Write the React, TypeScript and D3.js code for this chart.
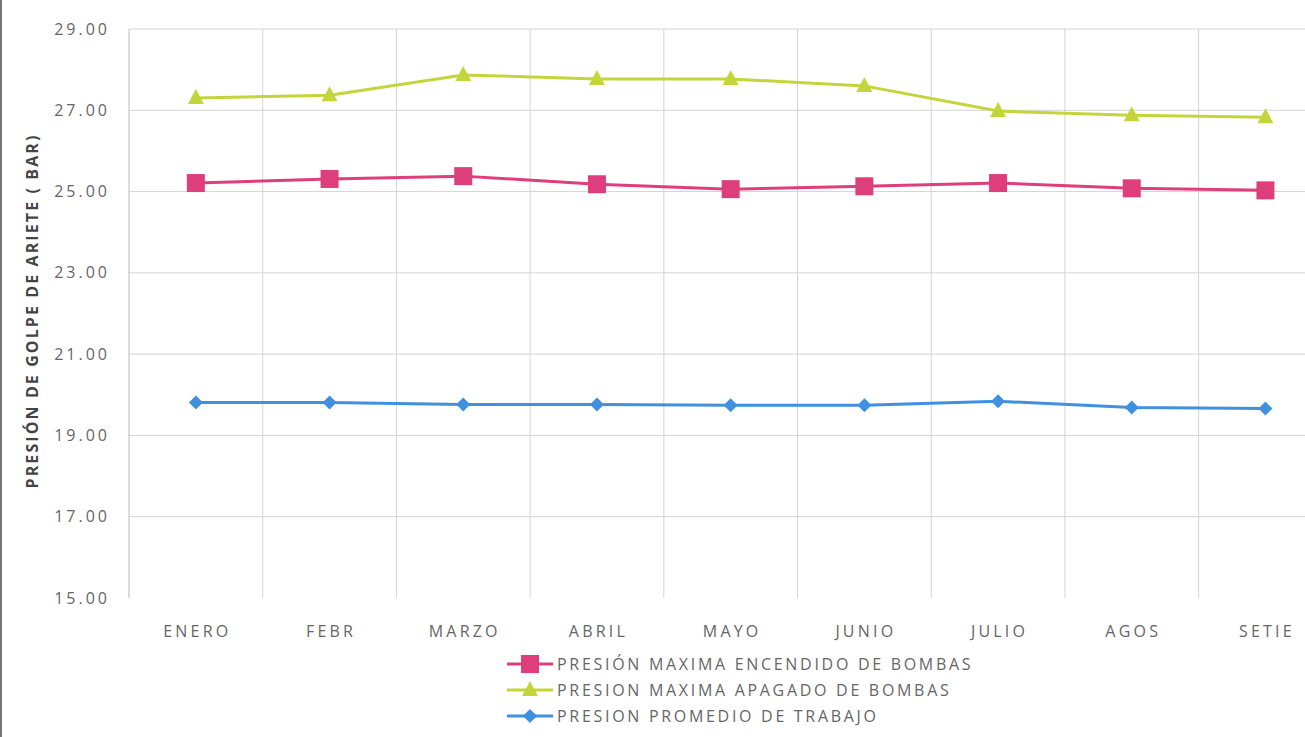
import React from "react";
import * as d3 from "d3";

const categories = ["ENERO", "FEBR", "MARZO", "ABRIL", "MAYO", "JUNIO", "JULIO", "AGOS", "SETIE"];
const encendido = [25.21, 25.31, 25.38, 25.18, 25.06, 25.13, 25.21, 25.08, 25.03];
const apagado = [27.3, 27.37, 27.87, 27.77, 27.77, 27.6, 26.98, 26.88, 26.83];
const promedio = [19.81, 19.81, 19.76, 19.76, 19.74, 19.74, 19.84, 19.69, 19.66];
const yTicks = [15, 17, 19, 21, 23, 25, 27, 29];
const seriesNames = [
  "PRESIÓN MAXIMA ENCENDIDO DE BOMBAS",
  "PRESION MAXIMA APAGADO DE BOMBAS",
  "PRESION PROMEDIO DE TRABAJO",
];

const W = 1305;
const H = 737;
const left = 129;
const bandW = 133.7;
const top = 29;
const bottom = 598;

const colors = ["#de3f7c", "#c4d53c", "#4090e0"];

export default function App() {
  const x = d3
    .scaleBand<string>()
    .domain(categories)
    .range([left, left + bandW * categories.length]);
  const y = d3.scaleLinear().domain([15, 29]).range([bottom, top]);
  const line = d3
    .line<number>()
    .x((_, i) => (x(categories[i]) as number) + x.bandwidth() / 2)
    .y((d) => y(d));

  const series = [encendido, apagado, promedio];
  const font = "'Open Sans', Lato, sans-serif";

  const marker = (s: number, cx: number, cy: number, key: string) => {
    if (s === 0)
      return <rect key={key} x={cx - 9} y={cy - 9} width={18} height={18} fill={colors[0]} />;
    if (s === 1)
      return (
        <path
          key={key}
          d={`M${cx},${cy - 9} L${cx + 8},${cy + 6} L${cx - 8},${cy + 6} Z`}
          fill={colors[1]}
        />
      );
    return (
      <path
        key={key}
        d={`M${cx},${cy - 7} L${cx + 7},${cy} L${cx},${cy + 7} L${cx - 7},${cy} Z`}
        fill={colors[2]}
      />
    );
  };

  const legendY = [664, 690, 716];

  return (
    <svg
      width={W}
      height={H}
      style={{ position: "absolute", left: 0, top: 0, background: "#fff" }}
      fontFamily={font}
    >
      <rect x={0} y={0} width={W} height={H} fill="#fff" />
      <line x1={1} x2={1} y1={0} y2={H} stroke="#777" strokeWidth={2} />
      {/* horizontal gridlines */}
      {yTicks.map((t) => (
        <g key={t}>
          {t !== 15 && (
            <line x1={left} x2={W} y1={y(t)} y2={y(t)} stroke="#d4d4d4" strokeWidth={1} />
          )}
          <text
            x={110}
            y={y(t)}
            dy="0.35em"
            textAnchor="end"
            fontSize={16}
            letterSpacing={3}
            fill="#666"
          >
            {t.toFixed(2)}
          </text>
        </g>
      ))}
      {/* vertical gridlines */}
      {categories.map((c) => (
        <line
          key={c}
          x1={(x(c) as number) + bandW}
          x2={(x(c) as number) + bandW}
          y1={top}
          y2={bottom}
          stroke="#d4d4d4"
          strokeWidth={1}
        />
      ))}
      <line x1={left} x2={left} y1={top} y2={bottom} stroke="#bbb" strokeWidth={1} />
      {/* x labels */}
      {categories.map((c) => (
        <text
          key={c}
          x={(x(c) as number) + x.bandwidth() / 2 + 1.5}
          y={631}
          dy="0.35em"
          textAnchor="middle"
          fontSize={16}
          letterSpacing={3.2}
          fill="#666"
        >
          {c}
        </text>
      ))}
      {/* y title */}
      <text
        transform={`translate(32,311) rotate(-90)`}
        textAnchor="middle"
        dy="0.35em"
        fontSize={16}
        letterSpacing={2.1}
        fontWeight="bold"
        fill="#444"
      >
        PRESIÓN DE GOLPE DE ARIETE ( BAR)
      </text>
      {/* series */}
      {series.map((vals, s) => (
        <g key={s}>
          <path d={line(vals) || ""} fill="none" stroke={colors[s]} strokeWidth={3} />
          {vals.map((v, i) =>
            marker(
              s,
              (x(categories[i]) as number) + x.bandwidth() / 2,
              y(v),
              `${s}-${i}`
            )
          )}
        </g>
      ))}
      {/* legend */}
      {seriesNames.map((n, s) => (
        <g key={n}>
          <line x1={507} x2={553} y1={legendY[s]} y2={legendY[s]} stroke={colors[s]} strokeWidth={3} />
          {marker(s, 530, legendY[s], `l${s}`)}
          <text x={557} y={legendY[s]} dy="0.35em" fontSize={16} letterSpacing={2.7} fill="#666">
            {n}
          </text>
        </g>
      ))}
    </svg>
  );
}
